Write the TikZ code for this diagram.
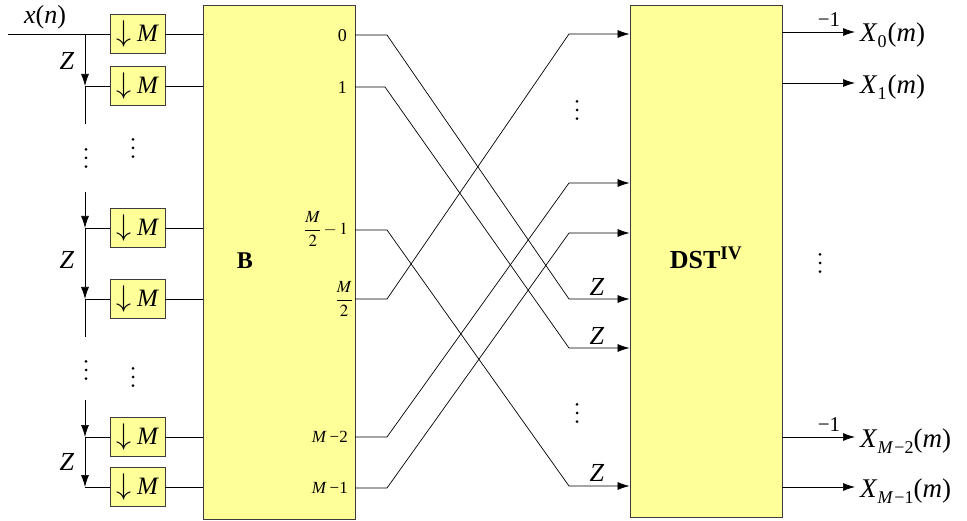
\documentclass[tikz,border=0pt]{standalone}
\usepackage{mathptmx}
\usepackage{fontspec}
\setmainfont{Liberation Serif}
\usetikzlibrary{arrows.meta}
\definecolor{boxfill}{RGB}{255,255,153}
\definecolor{edge}{RGB}{60,60,60}
\newcommand{\dsM}{\scalebox{1.2}{$\downarrow$}\hspace{6pt}\textit{M}}
\newcommand{\xsub}[1]{\raisebox{-6pt}{\fontsize{18}{18}\selectfont #1}}
\begin{document}
\begin{tikzpicture}[x=1pt,y=-1pt,
  dn/.style={draw=edge, fill=boxfill, minimum width=55pt, minimum height=39pt, inner sep=0pt, font=\fontsize{25}{27}\selectfont, line width=0.9pt},
  blk/.style={draw=edge, fill=boxfill, line width=0.9pt, inner sep=0pt},
  ln/.style={line width=0.7pt},
  arr/.style={ln, -{Latex[length=12pt,width=8pt]}},
  lbl/.style={font=\fontsize{26}{28}\selectfont, inner sep=0pt},
  port/.style={font=\fontsize{17}{19}\selectfont, inner sep=0pt, anchor=east}]
\useasboundingbox (0,0) rectangle (967,521);

% main blocks
\node[blk, minimum width=152pt, minimum height=514pt] (B) at (279,262) {};
\node[blk, minimum width=152pt, minimum height=512pt] (DST) at (706,261) {};
\node[lbl, font=\fontsize{24}{26}\selectfont\bfseries] (Bl) at (245,261) {B};
\node[lbl, font=\fontsize{26}{28}\selectfont\bfseries] (Dl) at (706,258) {DST\textsuperscript{IV}};

% downsamplers
\node[dn] (d1) at (137.5,34) {\dsM};
\node[dn] (d2) at (137.5,86) {\dsM};
\node[dn] (d3) at (137.5,228) {\dsM};
\node[dn] (d4) at (137.5,299) {\dsM};
\node[dn] (d5) at (137.5,437) {\dsM};
\node[dn] (d6) at (137.5,487) {\dsM};

% input and delay chain
\coordinate (in) at (8,34);
\coordinate (j1) at (85,34);
\coordinate (j2) at (85,86);
\coordinate (e1) at (85,124);
\coordinate (s2) at (85,192);
\coordinate (j3) at (85,228);
\coordinate (j4) at (85,299);
\coordinate (e2) at (85,337);
\coordinate (s3) at (85,400);
\coordinate (j5) at (85,437);
\coordinate (j6) at (85,487);

\node[lbl, anchor=base] (xn) at (45,24) {\textit{x}(\textit{n})};
\draw[ln] (in) -- (d1.west);
\draw[arr] (j1) -- (j2);
\draw[ln] (j2) -- (e1);
\draw[ln] (j2) -- (d2.west);
\draw[arr] (s2) -- (j3);
\draw[arr] (j3) -- (j4);
\draw[ln] (j4) -- (e2);
\draw[ln] (j3) -- (d3.west);
\draw[ln] (j4) -- (d4.west);
\draw[arr] (s3) -- (j5);
\draw[arr] (j5) -- (j6);
\draw[ln] (j5) -- (d5.west);
\draw[ln] (j6) -- (d6.west);

\node[lbl] (z1) at (67,61) {\textit{Z}};
\node[lbl] (z2) at (67,260) {\textit{Z}};
\node[lbl] (z3) at (67,462) {\textit{Z}};

% vertical ellipses
\foreach \cx/\cy in {86/158, 133/148, 86/370, 133/377, 577/110, 577/413, 820/263}
  \foreach \k in {-1,0,1}
    \fill (\cx,\cy+8.7*\k) circle (1.5);

\foreach \i in {1,...,6} \draw[ln] (d\i.east) -- (d\i.east -| B.west);

% port labels
\node[port, font=\fontsize{18}{20}\selectfont] (l0) at (347,36) {0};
\node[port, font=\fontsize{18}{20}\selectfont] (l1) at (347,88) {1};
\node[port] (l2) at (348,229) {$\displaystyle\frac{M}{2}-1$};
\node[port] (l3) at (353,299) {$\displaystyle\frac{M}{2}$};
\node[port] (l4) at (348,437) {\textit{M}\,−2};
\node[port] (l5) at (348,488) {\textit{M}\,−1};

% butterfly connections
\coordinate (p0) at (355,35);  \coordinate (c0) at (387,35);  \coordinate (t0) at (569,299);
\coordinate (p1) at (355,87);  \coordinate (c1) at (385,87);  \coordinate (t1) at (569,348);
\coordinate (p2) at (355,230); \coordinate (c2) at (387,230); \coordinate (t2) at (569,486);
\coordinate (p3) at (355,299); \coordinate (c3) at (387,299); \coordinate (t3) at (569,34);
\coordinate (p4) at (355,437); \coordinate (c4) at (387,437); \coordinate (t4) at (569,183);
\coordinate (p5) at (355,488); \coordinate (c5) at (387,488); \coordinate (t5) at (569,233);
\foreach \i in {0,...,5}
  \draw[arr] (p\i) -- (c\i) -- (t\i) -- (t\i -| DST.west);

\node[lbl] (zr1) at (597,287) {\textit{Z}};
\node[lbl] (zr2) at (597,336) {\textit{Z}};
\node[lbl] (zr3) at (597,473) {\textit{Z}};

% outputs
\coordinate (o0) at (855,32);
\coordinate (o1) at (855,83);
\coordinate (o2) at (855,437);
\coordinate (o3) at (855,487);
\foreach \i in {0,...,3} \draw[arr] (DST.east |- o\i) -- (o\i);

\node[lbl, anchor=base west, font=\fontsize{27}{29}\selectfont] (X0) at (860,42) {\textit{X}\xsub{0}\hspace{1pt}(\textit{m})};
\node[lbl, anchor=base west, font=\fontsize{27}{29}\selectfont] (X1) at (860,94) {\textit{X}\xsub{1}\hspace{1pt}(\textit{m})};
\node[lbl, anchor=base west, font=\fontsize{27}{29}\selectfont] (X2) at (860,447) {\textit{X}\xsub{\textit{M}\hspace{1pt}−2}(\textit{m})};
\node[lbl, anchor=base west, font=\fontsize{27}{29}\selectfont] (X3) at (860,497) {\textit{X}\xsub{\textit{M}\hspace{1pt}−1}(\textit{m})};
\node[lbl, anchor=base, font=\fontsize{21}{23}\selectfont] (m1) at (829,27) {−1};
\node[lbl, anchor=base, font=\fontsize{21}{23}\selectfont] (m2) at (829,431) {−1};
\end{tikzpicture}
\end{document}
